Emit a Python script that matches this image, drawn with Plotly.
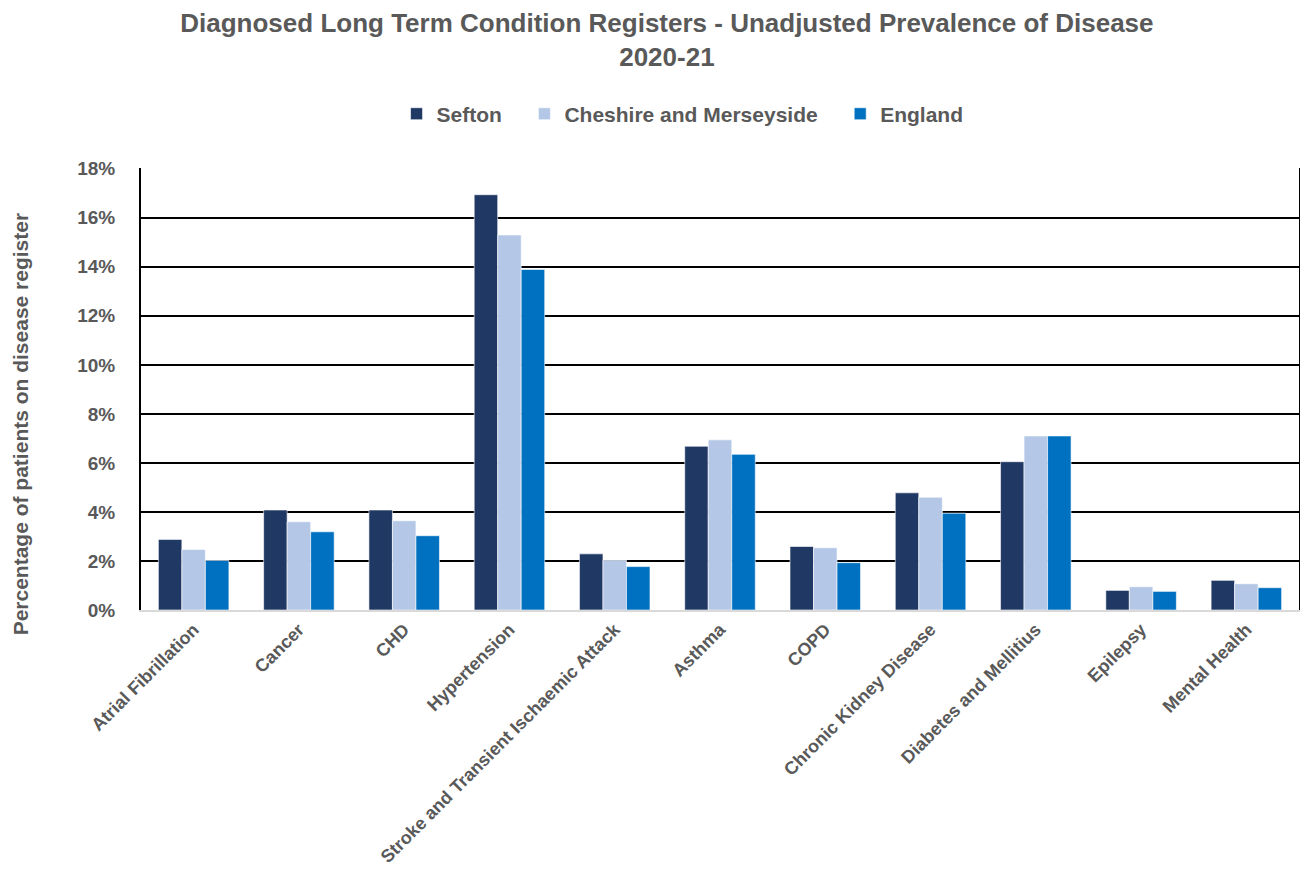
import plotly.graph_objects as go

conditions = ["Atrial Fibrillation", "Cancer", "CHD", "Hypertension",
              "Stroke and Transient Ischaemic Attack", "Asthma", "COPD",
              "Chronic Kidney Disease", "Diabetes and Mellitius", "Epilepsy", "Mental Health"]

sefton = [2.88, 4.08, 4.08, 16.94, 2.29, 6.68, 2.59, 4.78, 6.05, 0.80, 1.21]
cheshire_merseyside = [2.47, 3.60, 3.64, 15.30, 2.03, 6.94, 2.54, 4.60, 7.10, 0.95, 1.07]
england = [2.02, 3.19, 3.03, 13.89, 1.77, 6.35, 1.93, 3.95, 7.10, 0.76, 0.91]

y_ticks = [0, 2, 4, 6, 8, 10, 12, 14, 16, 18]
y_labels = [f"<b>{v}%</b>" for v in y_ticks]

grey = "#595959"
font = "Liberation Sans, Arial, sans-serif"
pad = "\u00a0" * 3

fig = go.Figure()
for name, vals, col in [("Sefton", sefton, "#203864"),
                        ("Cheshire and Merseyside", cheshire_merseyside, "#B4C7E7"),
                        ("England", england, "#0070C0")]:
    fig.add_trace(go.Bar(x=conditions, y=vals, name=f"<b>{name}</b>" + pad, marker_color=col,
                         marker_line=dict(color="white", width=0.6)))

# page has an 8px body margin, so the figure is 1292x868
fig.update_layout(
    width=1292, height=868,
    barmode="group", bargap=0.33, bargroupgap=0,
    plot_bgcolor="white", paper_bgcolor="white",
    font=dict(family=font, color=grey),
    title=dict(text="<b>Diagnosed Long Term Condition Registers - Unadjusted Prevalence of Disease<br>2020-21</b>",
               x=0.51, xanchor="center", y=0.9724, yanchor="top",
               font=dict(size=26, color=grey, family=font)),
    legend=dict(orientation="h", x=0.475, xanchor="center", y=1.122, yanchor="middle",
                font=dict(size=21, color=grey, family=font), traceorder="normal",
                itemwidth=30),
    margin=dict(l=133, r=1, t=160, b=266, autoexpand=False),
    annotations=[dict(text="<b>Percentage of patients on disease register</b>", textangle=-90,
                      xref="paper", yref="paper", x=-0.1045, y=0.42, xanchor="center", yanchor="middle",
                      showarrow=False, font=dict(size=21, color=grey, family=font))],
)
fig.update_yaxes(range=[0, 18.03], tickvals=y_ticks, ticktext=y_labels, automargin=False,
                 tickfont=dict(size=19, color=grey, family=font),
                 showgrid=True, gridcolor="black", gridwidth=2,
                 showline=True, linecolor="black", linewidth=2, mirror=True,
                 zeroline=False, ticks="", ticklabelstandoff=20)
fig.update_xaxes(tickangle=-45, tickfont=dict(size=18, color=grey, family=font), automargin=False,
                 tickprefix="<b>", ticksuffix="</b>",
                 showline=True, linecolor="#D9D9D9", linewidth=2, ticks="")

fig.write_html("out.html")
